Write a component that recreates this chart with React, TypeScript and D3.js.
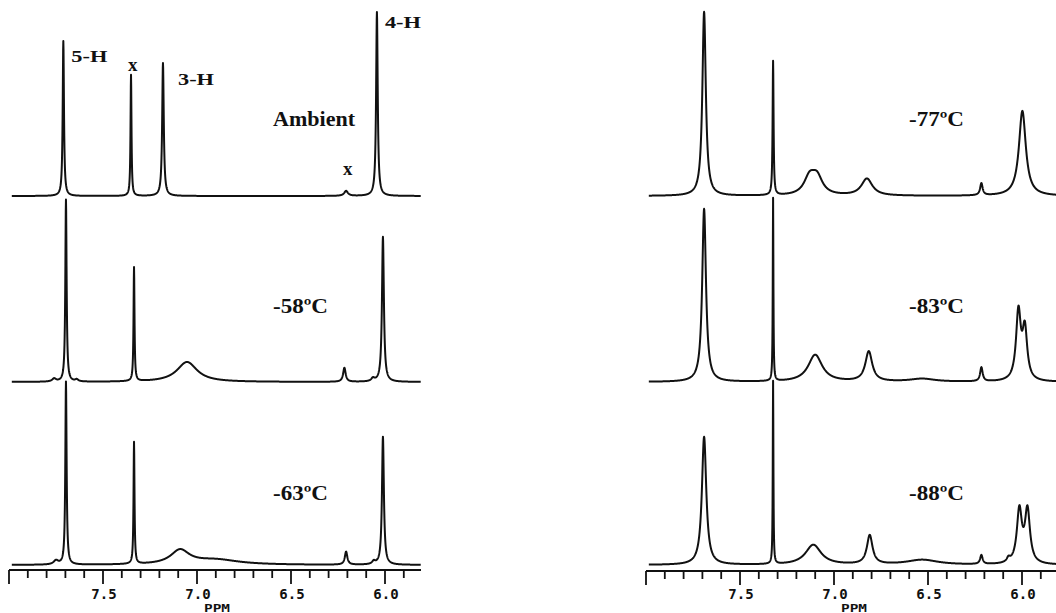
import React from 'react';
import * as d3 from 'd3';

// peaks: [ppm, height, half width in ppm]
const ambientPeaks = [
  [7.711, 155, 0.004], [7.351, 121, 0.003], [7.181, 133, 0.005],
  [6.207, 5, 0.012], [6.043, 184, 0.005],
];
const minus58Peaks = [
  [7.76, 3, 0.012], [7.697, 182, 0.004], [7.64, 2, 0.01], [7.335, 114, 0.003],
  [7.053, 20, 0.065], [6.216, 14, 0.008], [6.064, 3, 0.01], [6.011, 145, 0.006],
];
const minus63Peaks = [
  [7.75, 4, 0.015], [7.697, 183, 0.004], [7.335, 122, 0.003],
  [7.09, 14, 0.06], [6.9, 5, 0.15], [6.207, 13, 0.008],
  [6.06, 3, 0.01], [6.011, 128, 0.006],
];
const minus77Peaks = [
  [7.691, 184, 0.011], [7.324, 134, 0.003], [7.13, 17, 0.035], [7.09, 17, 0.035],
  [6.825, 17, 0.035], [6.216, 12, 0.008], [5.998, 85, 0.022],
];
const minus83Peaks = [
  [7.691, 173, 0.012], [7.324, 183, 0.002], [7.1, 27, 0.045], [6.815, 30, 0.022],
  [6.53, 3, 0.08], [6.216, 14, 0.008], [6.019, 68, 0.015], [5.985, 50, 0.015],
];
const minus88Peaks = [
  [7.691, 128, 0.014], [7.324, 183, 0.002], [7.11, 20, 0.05], [6.81, 29, 0.018],
  [6.53, 5, 0.1], [6.216, 9, 0.008], [6.072, 4, 0.01], [6.014, 53, 0.016], [5.971, 53, 0.016],
];

const leftLabels = ['Ambient', '-58ºC', '-63ºC'];
const rightLabels = ['-77ºC', '-83ºC', '-88ºC'];

// peak assignments on the ambient trace: [text, ppm, height]
const peakNames = [
  ['5-H', 7.711, 155], ['x', 7.351, 121], ['3-H', 7.181, 133], ['x', 6.207, 5], ['4-H', 6.043, 184],
];

const majorTicks = [8.0, 7.5, 7.0, 6.5, 6.0];
const tickLabels = ['', '7.5', '7.0', '6.5', '6.0'];
const minorTicks = d3.range(80, 58, -1).map(d => d / 10);

function trace(peaks) {
  const xs = d3.range(7.985, 5.81, -0.001).concat(peaks.map(p => p[0])).sort((a, b) => b - a);
  return xs.map(x => [x, d3.sum(peaks, p => p[1] / (1 + ((x - p[0]) / p[2]) ** 2))]);
}

function Panel({x0, axisY, axisEnd, spectra, labels, labelX, names}) {
  const x = d3.scaleLinear().domain([8.0, 5.8]).range([x0, x0 + 2.2 * 188]);
  const baselines = [196, 382, 565];
  const labelY = [126, 313, 500];
  return (
    <g>
      {spectra.map((peaks, i) => {
        const y = d3.scaleLinear().domain([0, 200]).range([baselines[i], baselines[i] - 200]);
        const line = d3.line().x(d => x(d[0])).y(d => y(d[1]));
        return <path key={i} d={line(trace(peaks))} fill="none" stroke="#111" strokeWidth={2} strokeLinejoin="round" />;
      })}
      {labels.map((t, i) => (
        <text key={t} x={labelX} y={labelY[i]} fontFamily="Liberation Serif" fontWeight="bold" fontSize={21}
          textLength={t === 'Ambient' ? 82 : 55} lengthAdjust="spacingAndGlyphs" fill="#111">{t}</text>
      ))}
      {names && names.map((n, i) => {
        const y = d3.scaleLinear().domain([0, 200]).range([baselines[0], baselines[0] - 200]);
        const isX = n[0] === 'x';
        const dx = isX ? -3 : (n[0] === '3-H' ? 15 : 8);
        const dy = isX ? (n[2] > 50 ? -4 : -16) : (n[0] === '3-H' ? 22 : (n[0] === '4-H' ? 16 : 21));
        return (
          <text key={i} x={x(n[1]) + dx} y={y(n[2]) + dy} fontFamily="Liberation Serif" fontWeight="bold"
            fontSize={isX ? 19 : 16} textLength={isX ? undefined : 36} lengthAdjust="spacingAndGlyphs" fill="#111">{n[0]}</text>
        );
      })}
      <line x1={x0} x2={axisEnd} y1={axisY} y2={axisY} stroke="#111" strokeWidth={1.8} />
      {minorTicks.filter(t => x(t) <= axisEnd).map(t => (
        <line key={t} x1={x(t)} x2={x(t)} y1={axisY} y2={axisY + (majorTicks.some(m => Math.abs(m - t) < 1e-6) ? 14 : 8)}
          stroke="#111" strokeWidth={1.8} />
      ))}
      {majorTicks.map((t, i) => (
        <text key={t} x={x(t) + 1} y={599} textAnchor="middle" fontFamily="DejaVu Sans Mono" fontWeight="bold"
          fontSize={14} fill="#111">{tickLabels[i]}</text>
      ))}
      <text x={x(7.0) + 20} y={612} textAnchor="middle" fontFamily="DejaVu Sans Mono" fontWeight="bold"
        fontSize={10} textLength={26} lengthAdjust="spacingAndGlyphs" fill="#111">PPM</text>
    </g>
  );
}

export default function App() {
  return (
    <svg width={1056} height={613} style={{position: 'absolute', left: 0, top: 0, background: '#fff'}}>
      <rect width={1056} height={613} fill="#fff" />
      <Panel x0={9} axisY={570} axisEnd={421} spectra={[ambientPeaks, minus58Peaks, minus63Peaks]}
        labels={leftLabels} labelX={273} names={peakNames} />
      <Panel x0={646} axisY={571} axisEnd={1056} spectra={[minus77Peaks, minus83Peaks, minus88Peaks]}
        labels={rightLabels} labelX={909} names={null} />
    </svg>
  );
}
